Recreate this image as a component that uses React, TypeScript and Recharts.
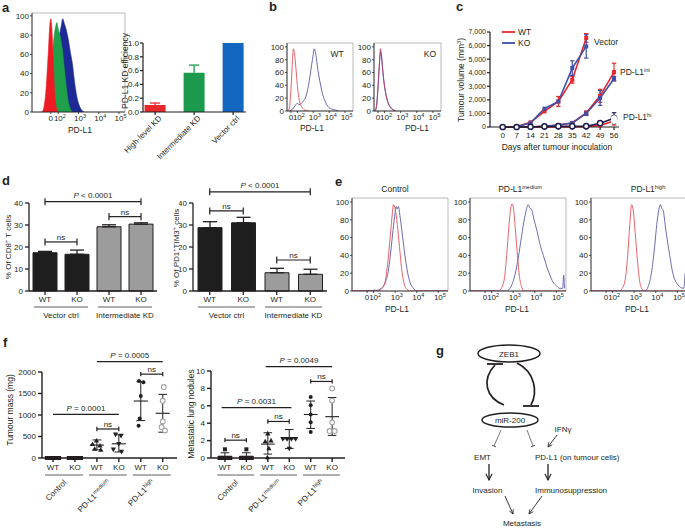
import React from 'react';
import { ComposedChart, Line, Area, Bar, Scatter, XAxis, YAxis, ReferenceLine, ReferenceArea, ErrorBar, Cell } from 'recharts';

const FONT = '"Liberation Sans", Arial, Helvetica, sans-serif';
const INK = '#231f20';
const RED = '#e8262b';
const BLUE = '#3d4fa8';
const NAVY = '#1c1f4f';
const H_RED = '#e4505a';
const H_BLUE = '#5a5aa8';

// ---------- panel a : flow histograms (u = log display position, v = % of max) ----------
const aRedHist = [[1.2,0],[1.3,6],[1.4,25],[1.5,60],[1.58,90],[1.63,97],[1.68,88],[1.75,55],[1.82,20],[1.9,5],[2.0,0]];
const aGreenHist = [[1.3,0],[1.45,10],[1.6,35],[1.7,60],[1.8,80],[1.88,90],[1.93,93],[2.0,86],[2.1,78],[2.2,65],[2.3,45],[2.4,25],[2.5,10],[2.6,3],[2.7,0]];
const aBlueHist = [[1.2,0],[1.4,5],[1.6,15],[1.8,35],[1.95,60],[2.05,78],[2.15,90],[2.22,97],[2.3,92],[2.4,85],[2.5,75],[2.6,62],[2.7,50],[2.8,32],[2.9,18],[3.0,9],[3.1,4],[3.2,1],[3.3,0]];
// panel a : knock-down efficiency bars
const kdLabels = ['High-level KD', 'Intermediate KD', 'Vector ctrl'];
const kdValues = [0.1, 0.57, 1.0];
const kdErrors = [0.03, 0.11, 0];
const kdColors = ['#e8262b', '#1b9a4e', '#1467c0'];

// ---------- panel b ----------
const bWtRed = [[1.4,0],[1.5,5],[1.6,35],[1.7,80],[1.75,97],[1.8,93],[1.9,70],[2.0,40],[2.1,20],[2.2,10],[2.35,4],[2.5,1],[2.7,0]];
const bWtBlue = [[1.5,0],[1.7,3],[1.85,8],[2.0,12],[2.1,10],[2.25,12],[2.4,16],[2.5,20],[2.6,28],[2.7,40],[2.8,55],[2.9,72],[3.0,88],[3.06,97],[3.15,90],[3.25,72],[3.35,55],[3.45,42],[3.55,30],[3.7,18],[3.85,10],[4.0,5],[4.3,2],[4.6,0]];
const bKoRed = [[1.4,0],[1.5,5],[1.6,35],[1.7,80],[1.75,97],[1.8,88],[1.9,62],[2.0,40],[2.1,25],[2.2,14],[2.35,6],[2.5,2],[2.7,0]];
const bKoBlue = [[1.4,0],[1.5,8],[1.6,40],[1.7,78],[1.76,92],[1.82,85],[1.9,60],[2.0,38],[2.1,24],[2.2,15],[2.35,7],[2.5,3],[2.7,0]];

// ---------- panel c : tumour volume (mm3) ----------
const cDays = [0, 7, 14, 21, 28, 35, 42, 49, 56];
const vecWT = [0, 30, 340, 1150, 1880, 3480, 6560];
const vecWTErr = [0, 0, 0, 0, 370, 250, 320];
const vecKO = [0, 20, 300, 1350, 1880, 4340, 5940];
const vecKOErr = [0, 0, 0, 0, 0, 540, 860];
const intWT = [0, 0, 0, 60, 150, 300, 1030, 2300, 4050];
const intWTErr = [0, 0, 0, 0, 0, 0, 150, 480, 650];
const intKO = [0, 0, 0, 60, 150, 300, 1000, 2140, 3560];
const intKOErr = [0, 0, 0, 0, 0, 0, 150, 550, 150];
const hiWT = [0, 0, 0, 0, 0, 0, 30, 120, 450];
const hiWTErr = [0, 0, 0, 0, 0, 0, 0, 0, 300];
const hiKO = [0, 0, 20, 40, 60, 60, 60, 280, 650];
const hiKOErr = [0, 0, 0, 0, 0, 0, 0, 0, 400];

// ---------- panel d ----------
const dCats = ['WT', 'KO', 'WT', 'KO'];
const dGroups = ['Vector ctrl', 'Intermediate KD'];
const cd8Mean = [17.4, 16.7, 29.2, 30.4];
const cd8Err = [0.6, 1.9, 0.9, 0.6];
const pdTimMean = [28.8, 31.0, 8.3, 7.6];
const pdTimErr = [2.7, 2.5, 2.0, 2.3];

// ---------- panel e ----------
const eCtrlRed = [[1.0,0],[2.2,0],[2.4,3],[2.55,12],[2.65,30],[2.75,55],[2.85,82],[2.92,97],[3.0,92],[3.1,75],[3.2,50],[3.3,25],[3.4,10],[3.5,3],[3.7,0],[5.45,0]];
const eCtrlBlue = [[1.0,0],[2.2,1],[2.4,4],[2.55,10],[2.7,25],[2.8,45],[2.9,68],[3.0,88],[3.05,95],[3.1,92],[3.15,95],[3.22,85],[3.3,70],[3.4,50],[3.5,32],[3.6,18],[3.7,9],[3.85,3],[4.0,0],[5.45,0]];
const eMedRed = [[1.0,0],[2.3,0],[2.45,3],[2.6,15],[2.7,40],[2.8,72],[2.9,95],[2.95,98],[3.02,92],[3.1,70],[3.2,40],[3.3,15],[3.4,4],[3.5,0],[5.45,0]];
const eMedBlue = [[1.0,0],[2.7,0],[2.9,5],[3.05,15],[3.2,32],[3.35,55],[3.5,78],[3.6,90],[3.7,97],[3.78,93],[3.85,92],[3.95,82],[4.1,68],[4.25,52],[4.4,40],[4.55,28],[4.7,18],[4.85,10],[5.0,6],[5.15,3],[5.3,3],[5.34,18],[5.38,3]];
const eHiRed = [[1.0,0],[2.3,0],[2.45,3],[2.6,15],[2.7,40],[2.8,75],[2.88,97],[2.95,92],[3.05,65],[3.15,35],[3.25,12],[3.35,3],[3.5,0],[5.45,0]];
const eHiBlue = [[1.0,0],[3.5,0],[3.65,5],[3.8,20],[3.95,50],[4.05,75],[4.15,92],[4.22,97],[4.28,93],[4.35,90],[4.45,72],[4.55,55],[4.65,40],[4.75,25],[4.85,15],[5.0,8],[5.15,4],[5.3,3],[5.36,20]];

// ---------- panel f ----------
const fCats = ['WT', 'KO', 'WT', 'KO', 'WT', 'KO'];
const fGroups = ['Control', 'PD-L1|medium', 'PD-L1|high'];
const fMarks = ['square', 'square', 'triUp', 'triDown', 'dot', 'ring'];
// tumour mass (mg): [offset within category, value]
const massCtrlWT = [[-0.28,0],[-0.14,0],[0,0],[0.14,0],[0.28,0]];
const massCtrlKO = [[-0.28,0],[-0.14,0],[0,0],[0.14,0],[0.28,0]];
const massMedWT = [[-0.02,400],[-0.2,320],[0.14,285],[-0.1,210],[0.18,185]];
const massMedKO = [[-0.15,550],[0.1,520],[0.0,330],[-0.25,200],[0.12,150]];
const massHiWT = [[-0.08,1790],[0.12,1760],[0.0,1440],[-0.05,920],[-0.1,750]];
const massHiKO = [[0.05,1650],[0.0,1330],[0.0,850],[-0.05,720],[0.1,640]];
const massMean = [0, 0, 300, 330, 1325, 1040];
const massLo = [0, 0, 190, 140, 870, 600];
const massHi = [0, 0, 420, 540, 1775, 1480];
// metastatic lung nodules
const nodCtrlWT = [[-0.25,0],[-0.1,0],[0.1,0],[0.25,0],[0.0,1]];
const nodCtrlKO = [[-0.25,0],[-0.1,0],[0.1,0],[0.25,0],[0.0,1]];
const nodMedWT = [[0,2.8],[0.15,2.0],[-0.12,1.9],[0.05,1.1],[-0.02,0.05]];
const nodMedKO = [[-0.3,2.2],[-0.1,2.2],[0.1,2.2],[0.3,2.2],[0,1.1]];
const nodHiWT = [[0,7.0],[0,6.05],[0,5.0],[0,4.1],[0,3.0]];
const nodHiKO = [[0,8.0],[0,6.6],[0,4.1],[-0.12,3.1],[0.12,3.1]];
const nodMean = [0.2, 0.2, 1.6, 2.2, 5.0, 4.75];
const nodLo = [0, 0, 0.45, 1.1, 3.4, 2.6];
const nodHi = [0.6, 0.6, 2.9, 3.27, 6.55, 6.95];

// ---------- helpers ----------
const pts = (a: number[][]) => a.map(([u, v]) => ({ u, v }));
const tickFont = { fontSize: 8, fill: INK, fontFamily: FONT };
const smallTick = { fontSize: 7, fill: INK, fontFamily: FONT };

type Box = { x0: number; y0: number; x1: number; y1: number };
type Pad = { l: number; t: number; r: number; b: number; ml?: number };
function frame(b: Box, p: Pad) {
  const ml = p.ml || 0;
  return {
    style: { position: 'absolute' as const, left: b.x0 - p.l - ml, top: b.y0 - p.t },
    width: b.x1 - b.x0 + p.l + p.r + ml,
    height: b.y1 - b.y0 + p.t + p.b,
    margin: { top: p.t, right: p.r, bottom: 0, left: ml },
    yw: p.l,
    xh: p.b,
  };
}

function FlowTick(props: any) {
  const { x, y, payload } = props;
  const v = Number(payload.value);
  if (v < 1.95) return <text x={x} y={y} dy="0.71em" textAnchor="middle" {...tickFont}>0</text>;
  return (
    <text x={x - 4.4} y={y} dy="0.71em" textAnchor="start" {...tickFont}>
      10<tspan fontSize={5.5} dy={-3}>{Math.round(v)}</tspan>
    </text>
  );
}

function FlowHist({ box, dom, ymax, zero, curves }: any) {
  const f = frame(box, { l: 18, t: 3, r: 3, b: 14 });
  return (
    <div style={f.style}>
      <ComposedChart width={f.width} height={f.height} margin={f.margin}>
        <XAxis type="number" dataKey="u" domain={dom} allowDataOverflow ticks={[zero, 2, 3, 4, 5]} interval={0} tick={<FlowTick />} tickSize={2} tickMargin={1} height={f.xh} stroke={INK} strokeWidth={0.8} />
        <YAxis type="number" domain={[0, ymax]} allowDataOverflow ticks={[0, 20, 40, 60, 80, 100]} interval={0} width={f.yw} tickSize={2} tickMargin={1} tick={tickFont} stroke={INK} strokeWidth={0.8} />
        <ReferenceArea x1={dom[0]} x2={dom[1]} y1={0} y2={ymax} fill="none" stroke="#8c8c8c" strokeWidth={0.6} ifOverflow="visible" />
        {curves.map((c: any, i: number) =>
          c.fill ? (
            <Area key={i} data={pts(c.data)} dataKey="v" type="monotone" stroke={c.color} strokeWidth={0.6} fill={c.color} fillOpacity={1} dot={false} activeDot={false} isAnimationActive={false} />
          ) : (
            <Line key={i} data={pts(c.data)} dataKey="v" type="monotone" stroke={c.color} strokeWidth={0.9} dot={false} activeDot={false} isAnimationActive={false} />
          )
        )}
      </ComposedChart>
    </div>
  );
}

function RotTick(props: any) {
  const { x, y, payload, labels } = props;
  const i = Math.round(Number(payload.value));
  const ax = x + 5;
  const ay = y + 1;
  return (
    <text x={ax} y={ay} dy="0.35em" textAnchor="end" transform={`rotate(-45 ${ax} ${ay})`} {...tickFont}>{labels[i]}</text>
  );
}

function KdBars() {
  const box = { x0: 143, y0: 43, x1: 246, y1: 112 };
  const f = frame(box, { l: 18, t: 4, r: 4, b: 50, ml: 40 });
  const data = kdValues.map((v, i) => ({ x: i, v }));
  return (
    <div style={f.style}>
      <ComposedChart width={f.width} height={f.height} margin={f.margin} data={data}>
        <XAxis type="number" dataKey="x" domain={[-0.31, 2.33]} allowDataOverflow ticks={[0, 1, 2]} interval={0} tick={<RotTick labels={kdLabels} />} tickSize={3} tickMargin={1} height={f.xh} stroke={INK} strokeWidth={1.2} />
        <YAxis type="number" domain={[0, 1]} ticks={[0, 0.2, 0.4, 0.6, 0.8, 1]} interval={0} tickFormatter={(v: number) => v.toFixed(1)} width={f.yw} tickSize={3} tickMargin={1} tick={tickFont} stroke={INK} strokeWidth={1.2} />
        <Bar dataKey="v" barSize={21} isAnimationActive={false}>
          {data.map((d, i) => <Cell key={i} fill={kdColors[i]} />)}
        </Bar>
        {kdErrors.flatMap((e, i) =>
          e > 0
            ? [
                <ReferenceLine key={'ev' + i} segment={[{ x: i, y: kdValues[i] }, { x: i, y: kdValues[i] + e }]} stroke={kdColors[i]} strokeWidth={1.3} ifOverflow="visible" />,
                <ReferenceLine key={'ec' + i} segment={[{ x: i - 0.13, y: kdValues[i] + e }, { x: i + 0.13, y: kdValues[i] + e }]} stroke={kdColors[i]} strokeWidth={1.3} ifOverflow="visible" />,
              ]
            : []
        )}
      </ComposedChart>
    </div>
  );
}

const seriesMark = (kind: string, color: string) => (p: any) => {
  const { cx, cy, index } = p;
  if (cx == null || cy == null) return <g key={index} />;
  if (kind === 'circ') return <circle key={index} cx={cx} cy={cy} r={2.6} fill="#fff" stroke={color} strokeWidth={1.5} />;
  return <rect key={index} x={cx - 2} y={cy - 2} width={4} height={4} fill={color} />;
};

function Growth() {
  const box = { x0: 490, y0: 32, x1: 619, y1: 127 };
  const f = frame(box, { l: 24, t: 5, r: 6, b: 16 });
  const series = [
    { vals: vecWT, errs: vecWTErr, color: RED, mark: 'sq' },
    { vals: vecKO, errs: vecKOErr, color: BLUE, mark: 'sq' },
    { vals: intWT, errs: intWTErr, color: RED, mark: 'sq' },
    { vals: intKO, errs: intKOErr, color: BLUE, mark: 'sq' },
    { vals: hiWT, errs: hiWTErr, color: RED, mark: 'sq' },
    { vals: hiKO, errs: hiKOErr, color: NAVY, mark: 'circ' },
  ].map((s) => ({ ...s, data: s.vals.map((v, i) => ({ d: cDays[i], v, e: s.errs[i] })) }));
  return (
    <div style={f.style}>
      <ComposedChart width={f.width} height={f.height} margin={f.margin}>
        <XAxis type="number" dataKey="d" domain={[-6.4, 58.5]} allowDataOverflow ticks={cDays} interval={0} tickSize={3} tickMargin={2} height={f.xh} tick={tickFont} stroke={INK} strokeWidth={1.2} />
        <YAxis type="number" domain={[0, 7000]} ticks={[0, 1000, 2000, 3000, 4000, 5000, 6000, 7000]} interval={0} tickFormatter={(v: number) => v.toLocaleString('en-US')} width={f.yw} tickSize={3} tickMargin={1} tick={smallTick} stroke={INK} strokeWidth={1.2} />
        {series.map((s, k) => (
          <Line key={'l' + k} data={s.data} dataKey="v" stroke={s.color} strokeWidth={1.6} dot={seriesMark(s.mark, s.color)} activeDot={false} isAnimationActive={false} />
        ))}
        {series.map((s, k) => (
          <Line key={'e' + k} data={s.data.filter((p) => p.e > 0)} dataKey="v" stroke="none" dot={false} activeDot={false} isAnimationActive={false}>
            <ErrorBar dataKey="e" width={2.2} stroke={s.color} strokeWidth={1.2} direction="y" />
          </Line>
        ))}
      </ComposedChart>
    </div>
  );
}

function BLabel(props: any) {
  const { viewBox, text, dy = 3 } = props;
  if (!viewBox) return null;
  const cx = viewBox.x + (viewBox.width || 0) / 2;
  const y = viewBox.y - dy;
  const body = text.startsWith('P') ? (
    <>
      <tspan fontStyle="italic">P</tspan>
      {text.slice(1)}
    </>
  ) : (
    text
  );
  return (
    <text x={cx} y={y} textAnchor="middle" fontSize={8} fontFamily={FONT} fill={INK}>{body}</text>
  );
}

function bracket(key: string, xa: any, xb: any, y: number, cap: number, text: string, caps: boolean, dy: number) {
  const out = [
    <ReferenceLine key={key} segment={[{ x: xa, y }, { x: xb, y }]} stroke={INK} strokeWidth={1.2} ifOverflow="visible" label={<BLabel text={text} dy={dy} />} />,
  ];
  if (caps) {
    out.push(<ReferenceLine key={key + 'a'} segment={[{ x: xa, y: y - cap }, { x: xa, y: y + cap }]} stroke={INK} strokeWidth={1.2} ifOverflow="visible" />);
    out.push(<ReferenceLine key={key + 'b'} segment={[{ x: xb, y: y - cap }, { x: xb, y: y + cap }]} stroke={INK} strokeWidth={1.2} ifOverflow="visible" />);
  }
  return out;
}

function PairTick(props: any) {
  const { x, y, payload, labels, groups, half, gap, rot } = props;
  const v = payload.value;
  const i = typeof v === 'number' ? Math.round(v) : Number(String(v).slice(1));
  const even = i % 2 === 0;
  const ux1 = even ? x - half + gap : x - half;
  const ux2 = even ? x + half : x + half - gap;
  const gx = x + half;
  const g = groups[i >> 1] || '';
  const [base, sup] = g.split('|');
  return (
    <g>
      <text x={x} y={y} dy="0.71em" textAnchor="middle" {...tickFont}>{labels[i]}</text>
      <line x1={ux1} x2={ux2} y1={y + 11} y2={y + 11} stroke="#9a9a9a" strokeWidth={1.6} />
      {even &&
        (rot ? (
          <text x={gx + 1} y={y + 17} dy="0.35em" textAnchor="end" transform={`rotate(-45 ${gx + 1} ${y + 17})`} {...tickFont}>
            {base}
            {sup ? <tspan fontSize={5.5} dy={-3}>{sup}</tspan> : null}
          </text>
        ) : (
          <text x={gx} y={y + 22} textAnchor="middle" {...tickFont}>{base}</text>
        ))}
    </g>
  );
}

function BarPanel({ box, pad, means, errs, brackets }: any) {
  const f = frame(box, pad);
  const data = means.map((v: number, i: number) => ({ k: 'c' + i, v, e: [0, errs[i]] }));
  const half = (box.x1 - box.x0) / means.length / 2;
  return (
    <div style={f.style}>
      <ComposedChart width={f.width} height={f.height} margin={f.margin} data={data}>
        <XAxis dataKey="k" type="category" interval={0} tick={<PairTick labels={dCats} groups={dGroups} half={half} gap={5} />} tickSize={4} tickMargin={1} height={f.xh} stroke={INK} strokeWidth={1.3} />
        <YAxis type="number" domain={[0, 40]} ticks={[0, 10, 20, 30, 40]} interval={0} width={f.yw} tickSize={4} tickMargin={2} tick={tickFont} stroke={INK} strokeWidth={1.3} />
        <Bar dataKey="v" barSize={24} stroke={INK} strokeWidth={1} isAnimationActive={false}>
          {data.map((d: any, i: number) => <Cell key={i} fill={i < 2 ? '#1e1e1e' : '#9c9c9c'} />)}
          <ErrorBar dataKey="e" width={7} stroke={INK} strokeWidth={1.3} direction="y" />
        </Bar>
        {brackets.flatMap((b: any, j: number) => bracket('br' + j, 'c' + b.a, 'c' + b.b, b.y, 1.6, b.t, true, b.t === 'ns' ? 2 : 4))}
      </ComposedChart>
    </div>
  );
}

const dotShape = (kind: string) => (p: any) => {
  const { cx, cy } = p;
  if (cx == null || cy == null) return <g />;
  switch (kind) {
    case 'square':
      return <rect x={cx - 2} y={cy - 2} width={4} height={4} fill={INK} />;
    case 'triUp':
      return <path d={`M${cx},${cy - 2.8} L${cx + 2.6},${cy + 1.8} L${cx - 2.6},${cy + 1.8}Z`} fill={INK} />;
    case 'triDown':
      return <path d={`M${cx},${cy + 2.8} L${cx + 2.6},${cy - 1.8} L${cx - 2.6},${cy - 1.8}Z`} fill={INK} />;
    case 'dot':
      return <circle cx={cx} cy={cy} r={2} fill={INK} />;
    default:
      return <circle cx={cx} cy={cy} r={2.4} fill="#fff" stroke="#a3a3a3" strokeWidth={1.1} />;
  }
};

function DotPanel({ box, pad, dom, yMax, yTicks, groups, means, lo, hi, brackets, cap }: any) {
  const f = frame(box, pad);
  const half = (box.x1 - box.x0) / (dom[1] - dom[0]) / 2;
  const st = { stroke: INK, ifOverflow: 'visible' as const };
  return (
    <div style={f.style}>
      <ComposedChart width={f.width} height={f.height} margin={f.margin}>
        <XAxis type="number" dataKey="x" domain={dom} allowDataOverflow ticks={[0, 1, 2, 3, 4, 5]} interval={0} tick={<PairTick labels={fCats} groups={fGroups} half={half} gap={3} rot />} tickSize={4} tickMargin={2} height={f.xh} stroke={INK} strokeWidth={1.4} />
        <YAxis type="number" dataKey="y" domain={[0, yMax]} ticks={yTicks} interval={0} width={f.yw} tickSize={4} tickMargin={2} tick={tickFont} stroke={INK} strokeWidth={1.4} />
        {groups.map((g: number[][], i: number) => (
          <Scatter key={'s' + i} data={g.map(([dx, y]) => ({ x: i + dx, y }))} shape={dotShape(fMarks[i])} isAnimationActive={false} />
        ))}
        {means.flatMap((m: number, i: number) => {
          const els = [<ReferenceLine key={'m' + i} segment={[{ x: i - 0.32, y: m }, { x: i + 0.32, y: m }]} {...st} strokeWidth={1.1} />];
          if (hi[i] > lo[i]) {
            els.push(<ReferenceLine key={'v' + i} segment={[{ x: i, y: lo[i] }, { x: i, y: hi[i] }]} {...st} strokeWidth={1} />);
            els.push(<ReferenceLine key={'t' + i} segment={[{ x: i - 0.2, y: hi[i] }, { x: i + 0.2, y: hi[i] }]} {...st} strokeWidth={1} />);
            if (lo[i] > 0) els.push(<ReferenceLine key={'b' + i} segment={[{ x: i - 0.2, y: lo[i] }, { x: i + 0.2, y: lo[i] }]} {...st} strokeWidth={1} />);
          }
          return els;
        })}
        {brackets.flatMap((b: any, j: number) => bracket('fb' + j, b.a, b.b, b.y, cap, b.t, b.t === 'ns', b.t === 'ns' ? 2 : 3.5))}
      </ComposedChart>
    </div>
  );
}

const T = ({ x, y, children, anchor = 'middle', size = 8, weight = 'normal', rot = false }: any) => (
  <text
    x={x}
    y={y}
    textAnchor={anchor}
    fontSize={size}
    fontWeight={weight}
    fontFamily={FONT}
    fill={INK}
    dy={rot ? '0.35em' : undefined}
    transform={rot ? `rotate(-90 ${x} ${y})` : undefined}
  >
    {children}
  </text>
);

function Overlay() {
  return (
    <svg width={685} height={528} style={{ position: 'absolute', left: 0, top: 0, pointerEvents: 'none' }}>
      <defs>
        <marker id="arr" viewBox="0 0 10 10" refX="9" refY="5" markerWidth="6" markerHeight="6" orient="auto">
          <path d="M1,1 L9,5 L1,9" fill="none" stroke={INK} strokeWidth={1.4} />
        </marker>
      </defs>
      {/* panel letters */}
      <T x={2} y={12} size={13} weight="bold" anchor="start">a</T>
      <T x={269} y={11} size={13} weight="bold" anchor="start">b</T>
      <T x={456} y={11} size={13} weight="bold" anchor="start">c</T>
      <T x={2} y={185} size={13} weight="bold" anchor="start">d</T>
      <T x={335} y={186} size={13} weight="bold" anchor="start">e</T>
      <T x={3} y={347} size={13} weight="bold" anchor="start">f</T>
      <T x={436} y={355} size={13} weight="bold" anchor="start">g</T>

      {/* a */}
      <T x={80} y={133} size={8.5}>PD-L1</T>
      <T x={125} y={71} size={8.5} rot>PD-L1 KD efficiency</T>

      {/* b */}
      <T x={312} y={131} size={8.5}>PD-L1</T>
      <T x={417} y={131} size={8.5}>PD-L1</T>
      <T x={337} y={57} size={8.5}>WT</T>
      <T x={430} y={57} size={8.5}>KO</T>

      {/* c */}
      <line x1={502} x2={515} y1={32} y2={32} stroke={RED} strokeWidth={1.8} />
      <T x={518} y={35} size={8.5} anchor="start">WT</T>
      <line x1={502} x2={515} y1={43} y2={43} stroke={BLUE} strokeWidth={1.8} />
      <T x={518} y={46} size={8.5} anchor="start">KO</T>
      <T x={594} y={45} size={8.5} anchor="start">Vector</T>
      <text x={620} y={75} fontSize={8.5} fontFamily={FONT} fill={INK}>PD-L1<tspan fontSize={5.5} dy={-3}>int</tspan></text>
      <text x={623} y={120} fontSize={8.5} fontFamily={FONT} fill={INK}>PD-L1<tspan fontSize={5.5} dy={-3}>hi</tspan></text>
      <text x={461} y={80} dy="0.35em" textAnchor="middle" transform="rotate(-90 461 80)" fontSize={8.5} fontFamily={FONT} fill={INK}>
        Tumour volume (mm<tspan fontSize={5.5} dy={-3}>3</tspan><tspan dy={3}>)</tspan>
      </text>
      <T x={557} y={150} size={8.5}>Days after tumour inoculation</T>

      {/* d */}
      <text x={8} y={247} dy="0.35em" textAnchor="middle" transform="rotate(-90 8 247)" fontSize={8} fontFamily={FONT} fill={INK}>
        % Of CD8<tspan fontSize={5.5} dy={-3}>+</tspan><tspan dy={3}> T cells</tspan>
      </text>
      <text x={176} y={248} dy="0.35em" textAnchor="middle" transform="rotate(-90 176 248)" fontSize={8} fontFamily={FONT} fill={INK}>
        % Of PD1<tspan fontSize={5.5} dy={-3}>+</tspan><tspan dy={3}>TIM3</tspan><tspan fontSize={5.5} dy={-3}>+</tspan><tspan dy={3}> cells</tspan>
      </text>

      {/* e */}
      <T x={395} y={192} size={8.5}>Control</T>
      <text x={520} y={192} textAnchor="middle" fontSize={8.5} fontFamily={FONT} fill={INK}>PD-L1<tspan fontSize={5.5} dy={-3}>medium</tspan></text>
      <text x={648} y={192} textAnchor="middle" fontSize={8.5} fontFamily={FONT} fill={INK}>PD-L1<tspan fontSize={5.5} dy={-3}>high</tspan></text>
      <T x={397} y={312} size={8.5}>PD-L1</T>
      <T x={517} y={312} size={8.5}>PD-L1</T>
      <T x={637} y={312} size={8.5}>PD-L1</T>

      {/* f */}
      <T x={10} y={410} size={8.5} rot>Tumour mass (mg)</T>
      <T x={191} y={414} size={8.5} rot>Metastatic lung nodules</T>

      {/* g : schematic */}
      <ellipse cx={509} cy={353.5} rx={31} ry={8.5} fill="none" stroke={INK} strokeWidth={1.5} />
      <T x={509} y={356.5} size={8}>ZEB1</T>
      <ellipse cx={510} cy={420} rx={28} ry={7} fill="none" stroke={INK} strokeWidth={1.5} />
      <T x={510} y={423} size={8}>miR-200</T>
      <path d="M504 405 C486 398, 481 380, 495 365" fill="none" stroke={INK} strokeWidth={1.7} />
      <line x1={487} x2={503} y1={364} y2={364} stroke={INK} strokeWidth={1.8} />
      <path d="M517 363 C535 372, 538 392, 531 405" fill="none" stroke={INK} strokeWidth={1.7} />
      <line x1={523} x2={539} y1={406} y2={406} stroke={INK} strokeWidth={1.8} />
      <line x1={501} y1={430} x2={494} y2={446} stroke={INK} strokeWidth={0.6} />
      <line x1={492} y1={445.2} x2={496} y2={446.8} stroke={INK} strokeWidth={0.8} />
      <line x1={527} y1={430} x2={533} y2={446} stroke={INK} strokeWidth={0.6} />
      <line x1={531} y1={446.8} x2={535} y2={445.3} stroke={INK} strokeWidth={0.8} />
      <T x={563} y={432} size={8}>IFNγ</T>
      <line x1={557} y1={435} x2={548} y2={447} stroke={INK} strokeWidth={0.9} markerEnd="url(#arr)" />
      <T x={482.5} y={460} size={8}>EMT</T>
      <T x={535} y={460} size={8} anchor="start">PD-L1 (on tumour cells)</T>
      <line x1={489} y1={464} x2={489} y2={480} stroke={INK} strokeWidth={1.3} markerEnd="url(#arr)" />
      <line x1={548} y1={464} x2={548} y2={480} stroke={INK} strokeWidth={1.3} markerEnd="url(#arr)" />
      <T x={487.5} y={493} size={8}>Invasion</T>
      <T x={535} y={493} size={8} anchor="start">Immunosuppression</T>
      <line x1={505} y1={496} x2={513} y2={514} stroke={INK} strokeWidth={0.9} markerEnd="url(#arr)" />
      <line x1={542} y1={496} x2={529} y2={514} stroke={INK} strokeWidth={0.9} markerEnd="url(#arr)" />
      <T x={522} y={526} size={8}>Metastasis</T>
    </svg>
  );
}

export default function App() {
  return (
    <div style={{ position: 'absolute', left: 0, top: 0, width: 685, height: 528, overflow: 'hidden', background: '#fff', fontFamily: FONT }}>
      <FlowHist
        box={{ x0: 32, y0: 13, x1: 125, y1: 112 }}
        dom={[0.7, 5.3]}
        ymax={103}
        zero={1.63}
        curves={[
          { data: aBlueHist, color: '#1d2a96', fill: true },
          { data: aGreenHist, color: '#1fa04a', fill: true },
          { data: aRedHist, color: '#ed1c24', fill: true },
        ]}
      />
      <KdBars />
      <FlowHist box={{ x0: 287, y0: 43, x1: 353, y1: 111 }} dom={[1.35, 5.5]} ymax={106} zero={1.6} curves={[{ data: bWtBlue, color: H_BLUE }, { data: bWtRed, color: H_RED }]} />
      <FlowHist box={{ x0: 374, y0: 43, x1: 441, y1: 111 }} dom={[1.35, 5.5]} ymax={106} zero={1.6} curves={[{ data: bKoBlue, color: H_BLUE }, { data: bKoRed, color: '#b03a6a' }]} />
      <Growth />
      <BarPanel
        box={{ x0: 29, y0: 203, x1: 157, y1: 291 }}
        pad={{ l: 18, t: 22, r: 4, b: 32 }}
        means={cd8Mean}
        errs={cd8Err}
        brackets={[
          { a: 0, b: 1, y: 22.3, t: 'ns' },
          { a: 0, b: 3, y: 40.6, t: 'P < 0.0001' },
          { a: 2, b: 3, y: 33.8, t: 'ns' },
        ]}
      />
      <BarPanel
        box={{ x0: 193, y0: 203, x1: 327, y1: 291 }}
        pad={{ l: 14, t: 30, r: 4, b: 32 }}
        means={pdTimMean}
        errs={pdTimErr}
        brackets={[
          { a: 0, b: 1, y: 36.4, t: 'ns' },
          { a: 0, b: 3, y: 45.1, t: 'P < 0.0001' },
          { a: 2, b: 3, y: 14.1, t: 'ns' },
        ]}
      />
      <FlowHist box={{ x0: 352, y0: 198, x1: 448, y1: 291 }} dom={[1.0, 5.45]} ymax={104.5} zero={1.7} curves={[{ data: eCtrlBlue, color: H_BLUE }, { data: eCtrlRed, color: H_RED }]} />
      <FlowHist box={{ x0: 470, y0: 198, x1: 566, y1: 291 }} dom={[1.0, 5.45]} ymax={104.5} zero={1.7} curves={[{ data: eMedBlue, color: H_BLUE }, { data: eMedRed, color: H_RED }]} />
      <FlowHist box={{ x0: 591, y0: 198, x1: 687, y1: 291 }} dom={[1.0, 5.45]} ymax={104.5} zero={1.7} curves={[{ data: eHiBlue, color: H_BLUE }, { data: eHiRed, color: H_RED }]} />
      <DotPanel
        box={{ x0: 42, y0: 372, x1: 177, y1: 458 }}
        pad={{ l: 30, t: 30, r: 4, b: 70 }}
        dom={[-0.5, 5.65]}
        yMax={2000}
        yTicks={[0, 500, 1000, 1500, 2000]}
        groups={[massCtrlWT, massCtrlKO, massMedWT, massMedKO, massHiWT, massHiKO]}
        means={massMean}
        lo={massLo}
        hi={massHi}
        cap={50}
        brackets={[
          { a: 0, b: 3, y: 1015, t: 'P = 0.0001' },
          { a: 2, b: 5, y: 2240, t: 'P = 0.0005' },
          { a: 2, b: 3, y: 675, t: 'ns' },
          { a: 4, b: 5, y: 1950, t: 'ns' },
        ]}
      />
      <DotPanel
        box={{ x0: 211, y0: 371, x1: 345, y1: 458 }}
        pad={{ l: 20, t: 30, r: 4, b: 70 }}
        dom={[-0.65, 5.6]}
        yMax={10}
        yTicks={[0, 2, 4, 6, 8, 10]}
        groups={[nodCtrlWT, nodCtrlKO, nodMedWT, nodMedKO, nodHiWT, nodHiKO]}
        means={nodMean}
        lo={nodLo}
        hi={nodHi}
        cap={0.25}
        brackets={[
          { a: -0.15, b: 3.1, y: 5.8, t: 'P = 0.0031' },
          { a: 1.9, b: 5.0, y: 10.5, t: 'P = 0.0049' },
          { a: 0, b: 1, y: 2.05, t: 'ns' },
          { a: 2, b: 3, y: 4.2, t: 'ns' },
          { a: 4, b: 5, y: 8.8, t: 'ns' },
        ]}
      />
      <Overlay />
    </div>
  );
}
